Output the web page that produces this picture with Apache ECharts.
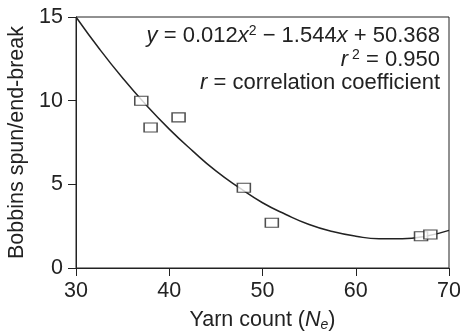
<!doctype html>
<html>
    <head>
        <meta charset="utf-8">
        <style>
            html, body { margin: 0; padding: 0; background: #fff; }
            #main { width: 460px; height: 332px; }
        </style>
    </head>
    <body>
        <div id="main"></div>
        <script src="https://cdn.jsdelivr.net/npm/echarts@6/dist/echarts.min.js"></script>
        <script>
            var chart = echarts.init(document.getElementById('main'));

            // measured points (yarn count, bobbins spun per end-break)
            var yarnCount = [37, 38, 41, 48, 51, 67, 68];
            var bobbins = [10.0, 8.4, 9.0, 4.8, 2.7, 1.9, 2.0];

            // fitted curve
            var curveX = [30, 32.5, 35, 37.5, 40, 42.5, 45, 47.5, 50, 52.5, 55, 57.5, 60, 62.5, 65, 67.5, 70];
            var curveY = [15.0, 13.1, 11.35, 9.75, 8.3, 7.0, 5.8, 4.8, 3.9, 3.2, 2.6, 2.18, 1.9, 1.75, 1.75, 1.9, 2.25];

            var xTicks = [30, 40, 50, 60, 70];
            var yTicks = [0, 5, 10, 15];

            var noteLines = [
                '{i|y} = 0.012{i|x}{sup|2} \u2212 1.544{i|x} + 50.368',
                '{i|r}{sup| 2} = 0.950',
                '{i|r} = correlation coefficient'
            ];

            var FONT = '"Liberation Sans", Arial, sans-serif';
            var INK = '#222';
            var FS = 21.5;
            var NOTE_FS = 22;

            var points = yarnCount.map(function (x, i) { return [x, bobbins[i]]; });
            var curve = curveX.map(function (x, i) { return [x, curveY[i]]; });

            var noteRich = {
                i: { fontFamily: FONT, fontSize: NOTE_FS, fontStyle: 'italic', fill: INK },
                sup: { fontFamily: FONT, fontSize: 14, fill: INK, verticalAlign: 'top', padding: [0, 0, 10, 0] }
            };

            var notes = noteLines.map(function (t, i) {
                return {
                    type: 'text',
                    right: 20,
                    top: 24 + i * 24,
                    style: {
                        text: t,
                        fontFamily: FONT,
                        fontSize: NOTE_FS,
                        fill: INK,
                        rich: noteRich
                    }
                };
            });

            chart.setOption({
                animation: false,
                grid: {
                    left: 76,
                    right: 11,
                    top: 17,
                    bottom: 64,
                    outerBoundsMode: 'none',
                    containLabel: false,
                    show: true,
                    borderColor: INK,
                    borderWidth: 1
                },
                xAxis: {
                    type: 'value',
                    min: xTicks[0],
                    max: xTicks[xTicks.length - 1],
                    interval: 10,
                    name: 'Yarn count ({i|N}{sub|e})',
                    nameLocation: 'middle',
                    nameGap: 41,
                    nameTextStyle: {
                        fontFamily: FONT,
                        fontSize: FS,
                        color: INK,
                        rich: {
                            i: { fontFamily: FONT, fontSize: FS, fontStyle: 'italic', color: INK },
                            sub: { fontFamily: FONT, fontSize: 14, fontStyle: 'italic', color: INK, verticalAlign: 'bottom', padding: [9, 0, 0, 0] }
                        }
                    },
                    axisLine: { lineStyle: { color: INK, width: 1 } },
                    axisTick: { show: true, length: 8, lineStyle: { color: INK } },
                    axisLabel: { fontFamily: FONT, fontSize: FS, color: INK, margin: 12 },
                    splitLine: { show: false }
                },
                yAxis: {
                    type: 'value',
                    min: yTicks[0],
                    max: yTicks[yTicks.length - 1],
                    interval: 5,
                    name: 'Bobbins spun/end-break',
                    nameLocation: 'middle',
                    nameGap: 44,
                    nameTextStyle: { fontFamily: FONT, fontSize: FS, color: INK },
                    axisLine: { show: true, lineStyle: { color: INK, width: 1 } },
                    axisTick: { show: true, length: 8, lineStyle: { color: INK } },
                    axisLabel: { fontFamily: FONT, fontSize: FS, color: INK, margin: 13 },
                    splitLine: { show: false }
                },
                graphic: notes,
                series: [{
                    type: 'line',
                    data: curve,
                    smooth: true,
                    showSymbol: false,
                    symbol: 'none',
                    clip: true,
                    lineStyle: { color: INK, width: 1.5 },
                    z: 2
                }, {
                    type: 'scatter',
                    data: points,
                    symbol: 'rect',
                    symbolSize: [13, 9],
                    itemStyle: { color: '#fff', borderColor: INK, borderWidth: 1.3 },
                    z: 3
                }]
            });

            window.addEventListener('resize', function () {
                chart.resize();
            });
        </script>
    </body>
</html>
